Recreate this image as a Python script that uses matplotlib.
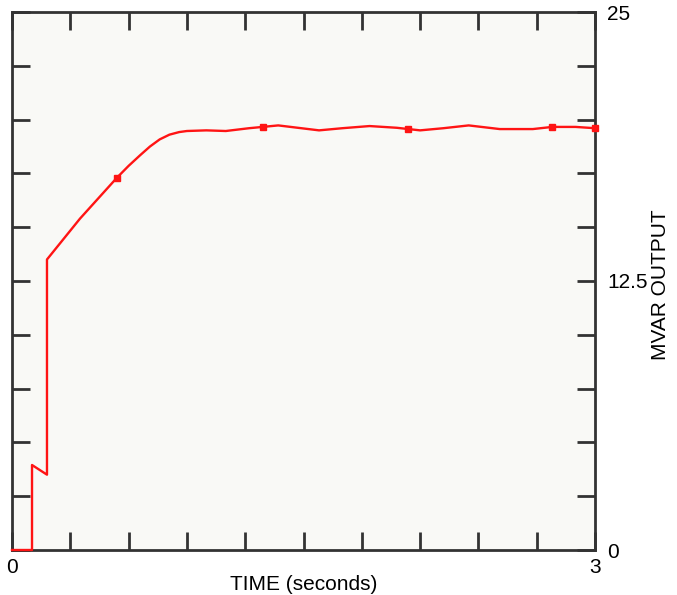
import numpy as np
from matplotlib import pyplot as plt

plt.rcParams['font.family'] = ['Liberation Sans', 'DejaVu Sans']

# MVAR response
time = [0.0, 0.103, 0.103, 0.18, 0.18, 0.35, 0.54, 0.60, 0.66, 0.71, 0.76, 0.81,
        0.86, 0.90, 1.0, 1.1, 1.22, 1.29, 1.37, 1.58, 1.7, 1.84, 1.98, 2.04,
        2.1, 2.22, 2.35, 2.51, 2.68, 2.78, 2.9, 3.0]
mvar = [0.0, 0.0, 3.95, 3.5, 13.5, 15.4, 17.3, 17.85, 18.35, 18.75, 19.08, 19.3,
        19.42, 19.47, 19.5, 19.47, 19.6, 19.66, 19.73, 19.5, 19.6, 19.7, 19.62, 19.56,
        19.5, 19.6, 19.73, 19.56, 19.56, 19.66, 19.66, 19.6]
mark_t = [0.54, 1.29, 2.04, 2.78, 3.0]
mark_v = [17.3, 19.66, 19.56, 19.66, 19.6]

x_ticks = np.arange(0, 3.01, 0.3)
y_ticks = np.arange(0, 25.01, 2.5)
y_labels = {0: '0', 12.5: '12.5', 25: '25'}

fig = plt.figure(figsize=(6.77, 5.95), dpi=100)
ax = fig.add_axes([12/677, 45/595, 583/677, 538/595])
ax.set_facecolor('#f9f9f6')

ax.plot(time, mvar, color='#ff1414', lw=1.7, clip_on=False, zorder=5)
ax.plot(mark_t, mark_v, 's', color='#ff1414', ms=4.5, clip_on=False, zorder=6)

ax.set_xlim(0, 3)
ax.set_ylim(0, 25)
for s in ax.spines.values():
    s.set_color('#333333')
    s.set_linewidth(2)

ax.set_xticks(x_ticks)
ax.set_xticklabels(['0'] + [''] * (len(x_ticks) - 2) + ['3'])
ax.set_yticks(y_ticks)
ax.set_yticklabels([y_labels.get(round(v, 1), '') for v in y_ticks])
ax.tick_params(axis='both', direction='in', length=13, width=2, color='#333333',
               top=True, right=True, left=True, bottom=True,
               labelleft=False, labelright=True, labelsize=15)
ax.tick_params(axis='x', pad=6)
ax.tick_params(axis='y', pad=9)

ax.set_xlabel('TIME (seconds)', fontsize=15, labelpad=-2)
fig.text(660/677, 1 - 285/595, 'MVAR OUTPUT', fontsize=15, rotation=90,
         ha='center', va='center')

plt.savefig('out.png', dpi=100)
